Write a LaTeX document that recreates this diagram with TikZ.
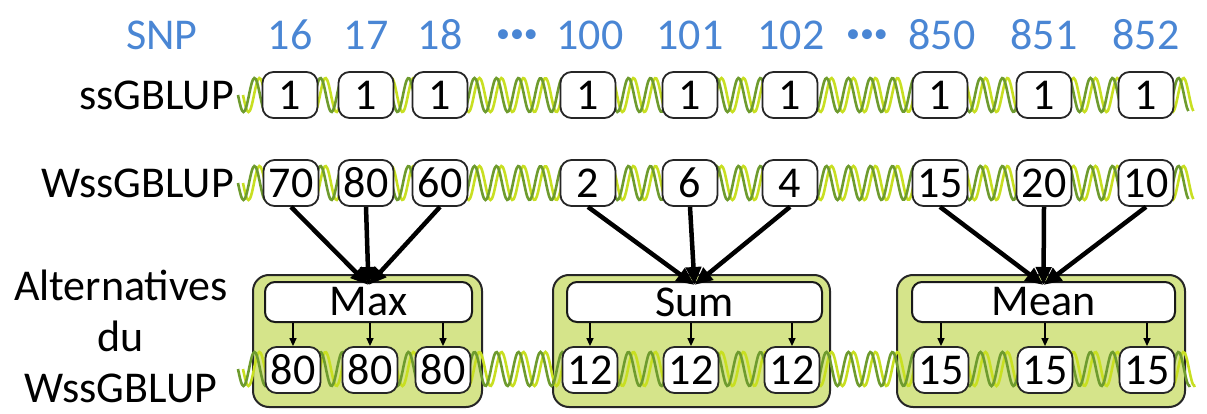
\documentclass[tikz,border=0pt]{standalone}
\usepackage{fontspec}
\setmainfont{Carlito}
\usetikzlibrary{arrows.meta}
\definecolor{hdrblue}{HTML}{4A86D4}
\definecolor{darkstrand}{HTML}{6E9B2E}
\definecolor{lightstrand}{HTML}{C8DF22}
\definecolor{grpfill}{HTML}{D5E48A}
\newcommand\mywave[3]{%
  \draw[lightstrand,line width=2.6pt] plot[variable=\t,domain=0:#3,samples=700,smooth]
    ({#1+5+22*\t},{#2+17*sin(360*mod(\t,1))});
  \draw[darkstrand,line width=2.6pt] plot[variable=\t,domain=0:#3,samples=700,smooth]
    ({#1+22*\t},{#2+17*sin(360*mod(\t,1))});
}
\tikzset{
  bigfont/.style={font=\fontsize{44}{50}\selectfont},
  hdr/.style={bigfont,text=hdrblue,inner sep=0pt,anchor=center},
  lbl/.style={bigfont,inner sep=0pt},
  val/.style={draw=black!85,line width=1.8pt,rounded corners=11pt,fill=white,
    minimum width=55pt,minimum height=46pt,inner sep=0pt,bigfont},
  agg/.style={draw=black!90,line width=2pt,rounded corners=10pt,fill=white,
    minimum height=40pt,inner sep=0pt,bigfont},
  grp/.style={draw=black!85,line width=2pt,rounded corners=16pt,fill=grpfill},
  bigarrow/.style={line width=4.5pt,-{Triangle[width=15pt,length=18pt]}},
  smallarrow/.style={line width=1.4pt,-{Triangle[width=7pt,length=8pt]}},
}
\begin{document}
\begin{tikzpicture}[x=1pt,y=-1pt]
\useasboundingbox (0,0) rectangle (1207,414);
% header
\node[hdr] (hsnp) at (162,35) {SNP};
\foreach \n/\xx in {16/290,17/366,18/440,100/590,101/690,102/791,850/942,851/1044,852/1146}{
  \node[hdr] (h\n) at (\xx,35) {\n};
}
\node[hdr,font=\fontsize{28}{30}\selectfont] (hd1) at (517,36) {•••};
\node[hdr,font=\fontsize{28}{30}\selectfont] (hd2) at (867,36) {•••};
% row labels
\node[lbl,anchor=east] (lss) at (234,95) {ssGBLUP};
\node[lbl,anchor=east] (lwss) at (234,183) {WssGBLUP};
\node[lbl,align=center,font=\fontsize{44}{51}\selectfont] (lalt) at (121,336) {Alternatives\\du\\WssGBLUP};
% group containers
\draw[grp] (253,275) rectangle (482,407);
\draw[grp] (553,275) rectangle (830,407);
\draw[grp] (897,275) rectangle (1185,407);
% waves
\mywave{238}{95}{43.2}
\mywave{238}{183}{43.2}
\mywave{238}{369}{43.3}
% row 1
\foreach \n/\xx in {16/290,17/366,18/440,100/588,101/690,102/790,850/940,851/1044,852/1146}{
  \node[val] (a\n) at (\xx,95) {1};
}
% row 2
\foreach \n/\xx/\v in {16/291/70,17/366/80,18/440/60,100/588/2,101/690/6,102/790/4,850/940/15,851/1044/20,852/1146/10}{
  \node[val] (b\n) at (\xx,183) {\v};
}
% aggregators
\node[agg,minimum width=207pt] (max) at (368.5,302) {Max};
\node[agg,minimum width=255pt] (sum) at (694.5,302) {Sum};
\node[agg,minimum width=263pt] (mean) at (1043.5,302) {Mean};
% row 3
\foreach \n/\xx/\v in {16/293/80,17/370/80,18/443/80,100/590/12,101/691/12,102/792/12,850/941/15,851/1045/15,852/1147/15}{
  \node[val] (c\n) at (\xx,370) {\v};
}
% big arrows
\foreach \n in {16,17,18}{\draw[bigarrow] (b\n.south) -- ([yshift=-4pt]max.north);}
\foreach \n in {100,101,102}{\draw[bigarrow] (b\n.south) -- ([yshift=-4pt]sum.north);}
\foreach \n in {850,851,852}{\draw[bigarrow] (b\n.south) -- ([yshift=-4pt]mean.north);}
% small arrows
\foreach \n/\g in {16/max,17/max,18/max,100/sum,101/sum,102/sum,850/mean,851/mean,852/mean}{
  \draw[smallarrow] (\g.south -| c\n.north) -- (c\n.north);
}
\end{tikzpicture}
\end{document}
